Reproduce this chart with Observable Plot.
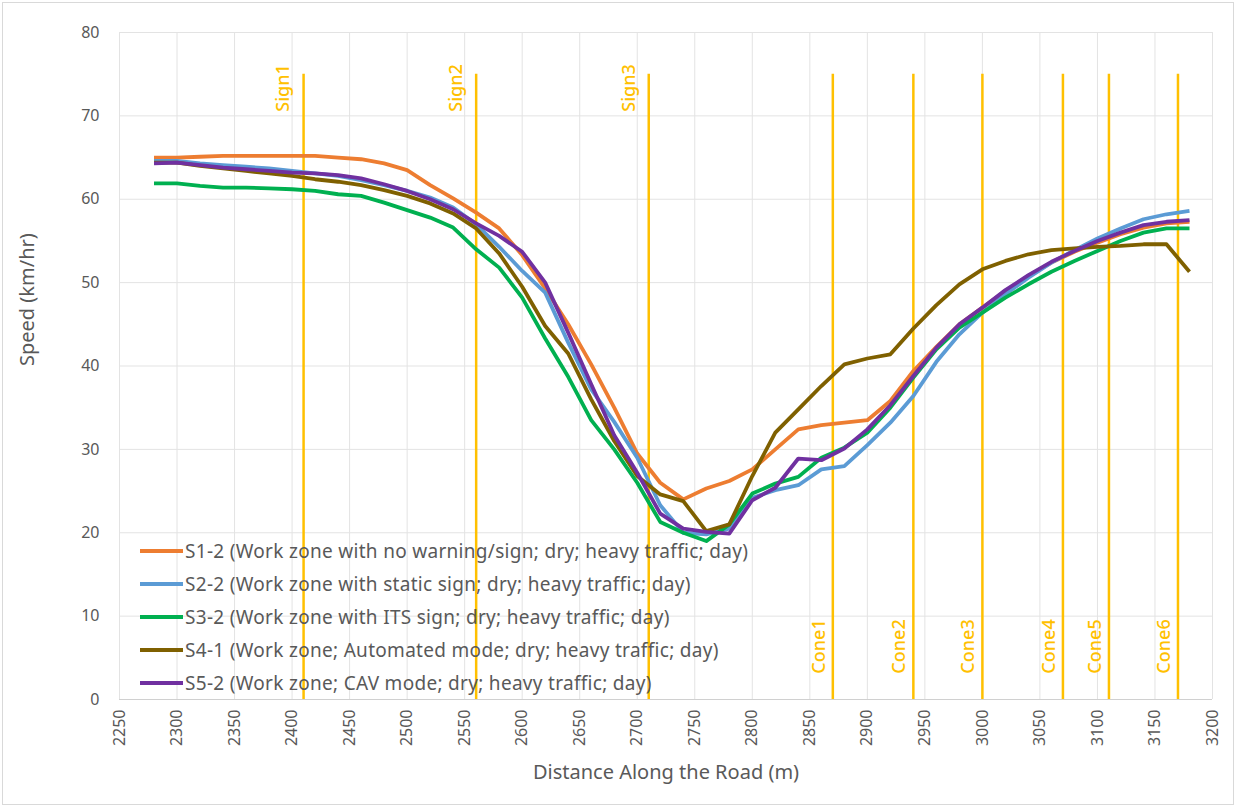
<!DOCTYPE html>
<html>
<head>
<meta charset="utf-8">
<script src="https://cdn.jsdelivr.net/npm/d3@7"></script>
<script src="https://cdn.jsdelivr.net/npm/@observablehq/plot@0.6"></script>
<style>
  html, body { margin: 0; padding: 0; background: #ffffff; }
  #wrap { position: relative; width: 1236px; height: 807px; overflow: hidden; font-family: "Noto Sans", "Open Sans", sans-serif; }
  #border { position: absolute; left: 2px; top: 2px; right: 2px; bottom: 2px; border: 1px solid #d9d9d9; pointer-events: none; }
  #legend { position: absolute; left: 140px; top: 534px; color: #595959; font-size: 19px; letter-spacing: 0.3px; }
  .row { display: flex; align-items: center; height: 33px; white-space: nowrap; }
  .sw { width: 43px; height: 4px; margin-right: 2px; }
</style>
</head>
<body>
<div id="wrap">
  <div id="chart"></div>
  <div id="legend"></div>
  <div id="border"></div>
</div>
<script>
// ---- data ----
const distance = [2280, 2300, 2320, 2340, 2360, 2380, 2400, 2420, 2440, 2460,
                  2480, 2500, 2520, 2540, 2560, 2580, 2600, 2620, 2640, 2660,
                  2680, 2700, 2720, 2740, 2760, 2780, 2800, 2820, 2840, 2860,
                  2880, 2900, 2920, 2940, 2960, 2980, 3000, 3020, 3040, 3060,
                  3080, 3100, 3120, 3140, 3160, 3180];

const seriesNames = [
  "S1-2 (Work zone with no warning/sign; dry; heavy traffic; day)",
  "S2-2 (Work zone with static sign; dry; heavy traffic; day)",
  "S3-2 (Work zone with ITS sign; dry; heavy traffic; day)",
  "S4-1 (Work zone; Automated mode; dry; heavy traffic; day)",
  "S5-2 (Work zone; CAV mode; dry; heavy traffic; day)"
];
const seriesColors = ["#ED7D31", "#5B9BD5", "#00B050", "#7F6000", "#7030A0"];

const s1 = [65.0, 65.0, 65.1, 65.2, 65.2, 65.2, 65.2, 65.2, 65.0, 64.8,
            64.3, 63.5, 61.7, 60.1, 58.4, 56.5, 53.3, 49.3, 45.0, 40.2,
            35.0, 29.5, 26.0, 24.0, 25.3, 26.2, 27.6, 30.0, 32.4, 32.9,
            33.2, 33.5, 35.8, 39.4, 42.3, 45.0, 47.0, 49.0, 50.8, 52.4,
            53.7, 54.8, 55.8, 56.6, 57.1, 57.3];
const s2 = [64.6, 64.6, 64.3, 64.1, 63.9, 63.7, 63.4, 63.1, 62.8, 62.3,
            61.7, 61.0, 60.2, 59.0, 57.0, 54.3, 51.4, 48.8, 42.8, 37.2,
            33.3, 29.0, 23.3, 20.0, 19.8, 20.5, 24.2, 25.1, 25.7, 27.6,
            28.0, 30.5, 33.2, 36.4, 40.5, 43.8, 46.4, 48.6, 50.6, 52.4,
            53.9, 55.3, 56.5, 57.6, 58.2, 58.6];
const s3 = [61.9, 61.9, 61.6, 61.4, 61.4, 61.3, 61.2, 61.0, 60.6, 60.4,
            59.6, 58.7, 57.8, 56.6, 54.0, 51.8, 48.2, 43.3, 38.7, 33.5,
            30.0, 26.0, 21.3, 20.0, 19.0, 21.0, 24.7, 25.9, 26.7, 29.0,
            30.2, 32.0, 35.0, 38.6, 42.0, 44.6, 46.4, 48.2, 49.8, 51.3,
            52.6, 53.8, 55.0, 56.0, 56.5, 56.5];
const s4 = [64.4, 64.4, 64.0, 63.7, 63.4, 63.1, 62.8, 62.4, 62.1, 61.7,
            61.1, 60.4, 59.5, 58.3, 56.5, 53.5, 49.5, 44.8, 41.5, 36.0,
            31.0, 26.8, 24.6, 23.8, 20.2, 21.0, 26.8, 32.0, 34.8, 37.6,
            40.2, 40.9, 41.4, 44.5, 47.3, 49.8, 51.6, 52.6, 53.4, 53.9,
            54.1, 54.3, 54.4, 54.6, 54.6, 51.3];
const s5 = [64.3, 64.4, 64.1, 63.8, 63.6, 63.4, 63.2, 63.1, 62.9, 62.5,
            61.8, 61.0, 60.0, 58.8, 57.1, 55.6, 53.7, 50.0, 44.0, 37.8,
            31.7, 27.2, 22.3, 20.5, 20.1, 19.9, 23.9, 25.4, 28.9, 28.7,
            30.1, 32.4, 35.3, 38.8, 42.2, 45.0, 47.0, 49.1, 50.9, 52.5,
            53.8, 55.0, 56.0, 56.9, 57.3, 57.5];

const signNames = ["Sign1", "Sign2", "Sign3"];
const signPositions = [2410, 2560, 2710];
const coneNames = ["Cone1", "Cone2", "Cone3", "Cone4", "Cone5", "Cone6"];
const conePositions = [2870, 2940, 3000, 3070, 3110, 3170];
const markerSpan = [0, 75];           // vertical marker lines run from 0 to 75 km/hr
const signLabelTop = 76.2;            // sign labels end at this speed value
const coneLabelBottom = 3.1;          // cone labels start at this speed value

const xTicks = [2250, 2300, 2350, 2400, 2450, 2500, 2550, 2600, 2650, 2700,
                2750, 2800, 2850, 2900, 2950, 3000, 3050, 3100, 3150, 3200];
const yTicks = [0, 10, 20, 30, 40, 50, 60, 70, 80];
const xTitle = "Distance Along the Road (m)";
const yTitle = "Speed (km/hr)";

// ---- build tables ----
const allSeries = [s1, s2, s3, s4, s5];
const rows = [];
allSeries.forEach((vals, i) => {
  vals.forEach((v, j) => rows.push({series: seriesNames[i], d: distance[j], v}));
});
const signs = signNames.map((n, i) => ({name: n, pos: signPositions[i]}));
const cones = coneNames.map((n, i) => ({name: n, pos: conePositions[i]}));
const markers = [...signs, ...cones];

const gold = "#FFC000";
const font = '"Noto Sans", "Open Sans", sans-serif';

const chart = Plot.plot({
  width: 1236,
  height: 807,
  marginLeft: 119,
  marginRight: 24,
  marginTop: 32,
  marginBottom: 108,
  style: {fontFamily: font, fontSize: "16px", color: "#595959", background: "white"},
  x: {domain: [2250, 3200], ticks: xTicks, tickRotate: -90, tickSize: 0, tickPadding: 10,
      label: null, tickFormat: d => String(d)},
  y: {domain: [0, 80], ticks: yTicks, tickSize: 0, tickPadding: 20, label: null},
  color: {domain: seriesNames, range: seriesColors},
  marks: [
    Plot.ruleX(xTicks, {stroke: "#e3e3e3", strokeWidth: 1}),
    Plot.ruleY(yTicks, {stroke: "#e3e3e3", strokeWidth: 1}),
    Plot.ruleY([0], {stroke: "#d0d0d0", strokeWidth: 1}),
    Plot.ruleX(markers, {x: "pos", y1: markerSpan[0], y2: markerSpan[1], stroke: gold, strokeWidth: 2.5}),
    Plot.line(rows, {x: "d", y: "v", z: "series", stroke: "series", strokeWidth: 3.8,
                     strokeLinejoin: "round", strokeLinecap: "butt"}),
    Plot.text(signs, {x: "pos", y: signLabelTop, text: "name", rotate: -90, textAnchor: "end",
                      dx: -20, fill: gold, fontSize: 18, fontWeight: 500}),
    Plot.text(cones, {x: "pos", y: coneLabelBottom, text: "name", rotate: -90, textAnchor: "start",
                      dx: -14, fill: gold, fontSize: 18, fontWeight: 500}),
    Plot.text([xTitle], {frameAnchor: "bottom", dy: 79, text: d => d, fontSize: 20, fill: "#595959"}),
    Plot.text([yTitle], {frameAnchor: "left", dx: -92, rotate: -90, text: d => d, fontSize: 20, fill: "#595959"})
  ]
});
document.getElementById("chart").appendChild(chart);

// ---- legend ----
const legend = document.getElementById("legend");
seriesNames.forEach((name, i) => {
  const row = document.createElement("div");
  row.className = "row";
  const sw = document.createElement("span");
  sw.className = "sw";
  sw.style.background = seriesColors[i];
  const label = document.createElement("span");
  label.textContent = name;
  row.appendChild(sw);
  row.appendChild(label);
  legend.appendChild(row);
});
</script>
</body>
</html>
